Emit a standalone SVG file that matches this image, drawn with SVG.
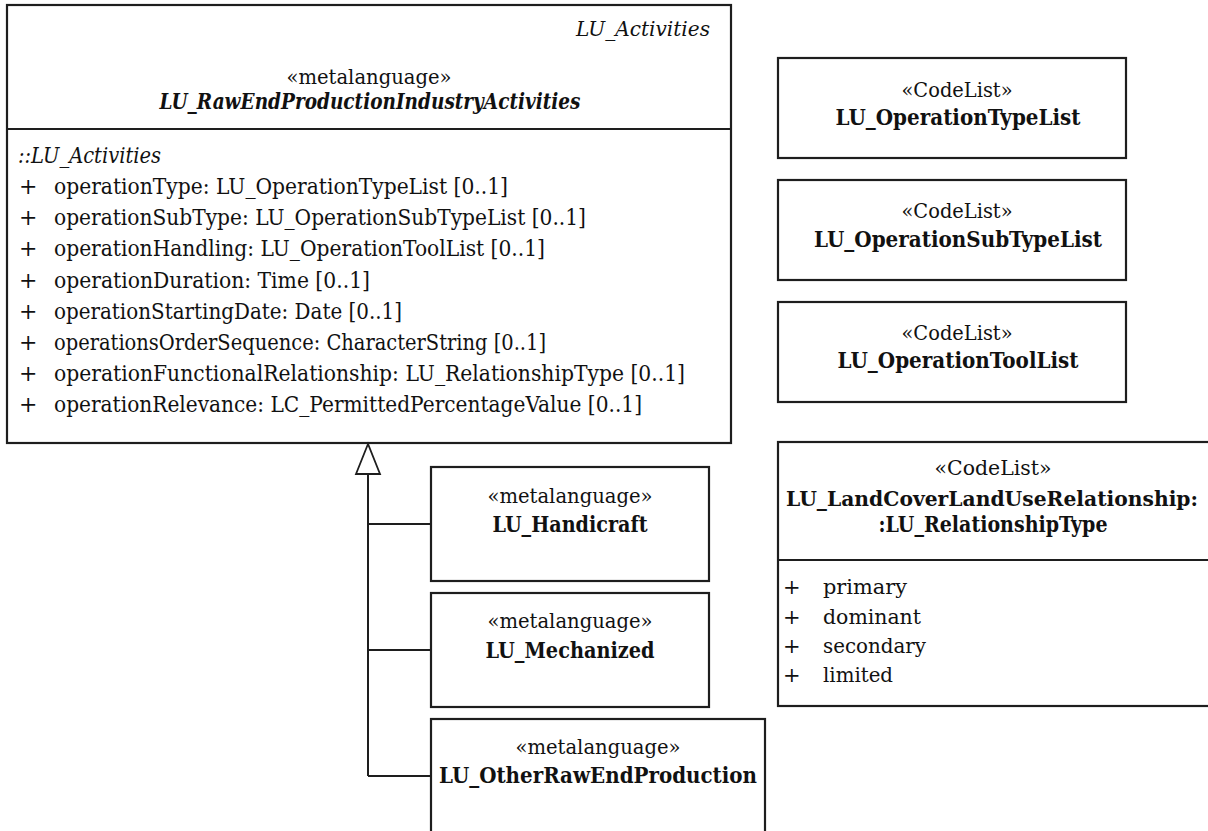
<svg xmlns="http://www.w3.org/2000/svg" width="1208" height="831" viewBox="0 0 1208 831">
  <style>
    .box { fill: #ffffff; stroke: #1e1e1e; stroke-width: 2.2; }
    .sep { stroke: #1e1e1e; stroke-width: 2.2; }
    .edge { fill: none; stroke: #1e1e1e; stroke-width: 2; }
    .head { fill: #ffffff; stroke: #1e1e1e; stroke-width: 1.8; }
    text { font-family: "DejaVu Serif", "Liberation Serif", serif; font-size: 21px; fill: #111111; }
    .a { font-size: 22px; }
    .b { font-weight: bold; font-size: 22px; }
    .bs { font-weight: bold; font-size: 20px; }
    .i { font-style: italic; }
    .bi { font-weight: bold; font-style: italic; font-size: 23px; }
    .c { text-anchor: middle; }
    .e { text-anchor: end; }
  </style>
  <rect width="1208" height="831" fill="#ffffff"/>

  <!-- abstract parent class -->
  <g id="LU_RawEndProductionIndustryActivities">
    <rect class="box" x="7" y="5" width="724" height="438"/>
    <line class="sep" x1="7" y1="129" x2="731" y2="129"/>
    <text class="i e" x="710" y="36" textLength="134" lengthAdjust="spacingAndGlyphs">LU_Activities</text>
    <text class="c" x="369" y="84" textLength="165" lengthAdjust="spacingAndGlyphs">«metalanguage»</text>
    <text class="bi c" x="370" y="109" textLength="421" lengthAdjust="spacingAndGlyphs">LU_RawEndProductionIndustryActivities</text>
    <text class="i a" x="18" y="163" textLength="143" lengthAdjust="spacingAndGlyphs">::LU_Activities</text>
    <g>
      <text class="a" x="19" y="194">+</text>
      <text class="a" x="19" y="225">+</text>
      <text class="a" x="19" y="256">+</text>
      <text class="a" x="19" y="288">+</text>
      <text class="a" x="19" y="319">+</text>
      <text class="a" x="19" y="350">+</text>
      <text class="a" x="19" y="381">+</text>
      <text class="a" x="19" y="412">+</text>
    </g>
    <text class="a" x="54" y="194" textLength="454" lengthAdjust="spacingAndGlyphs">operationType: LU_OperationTypeList [0..1]</text>
    <text class="a" x="54" y="225" textLength="532" lengthAdjust="spacingAndGlyphs">operationSubType: LU_OperationSubTypeList [0..1]</text>
    <text class="a" x="54" y="256" textLength="491" lengthAdjust="spacingAndGlyphs">operationHandling: LU_OperationToolList [0..1]</text>
    <text class="a" x="54" y="288" textLength="316" lengthAdjust="spacingAndGlyphs">operationDuration: Time [0..1]</text>
    <text class="a" x="54" y="319" textLength="348" lengthAdjust="spacingAndGlyphs">operationStartingDate: Date [0..1]</text>
    <text class="a" x="54" y="350" textLength="492" lengthAdjust="spacingAndGlyphs">operationsOrderSequence: CharacterString [0..1]</text>
    <text class="a" x="54" y="381" textLength="631" lengthAdjust="spacingAndGlyphs">operationFunctionalRelationship: LU_RelationshipType [0..1]</text>
    <text class="a" x="54" y="412" textLength="588" lengthAdjust="spacingAndGlyphs">operationRelevance: LC_PermittedPercentageValue [0..1]</text>
  </g>

  <!-- subclasses -->
  <g id="LU_Handicraft">
    <rect class="box" x="431" y="467" width="278" height="114"/>
    <text class="c" x="570" y="503" textLength="165" lengthAdjust="spacingAndGlyphs">«metalanguage»</text>
    <text class="b c" x="570" y="532" textLength="155" lengthAdjust="spacingAndGlyphs">LU_Handicraft</text>
  </g>
  <g id="LU_Mechanized">
    <rect class="box" x="431" y="593" width="278" height="114"/>
    <text class="c" x="570" y="628" textLength="165" lengthAdjust="spacingAndGlyphs">«metalanguage»</text>
    <text class="b c" x="570" y="658" textLength="169" lengthAdjust="spacingAndGlyphs">LU_Mechanized</text>
  </g>
  <g id="LU_OtherRawEndProduction">
    <rect class="box" x="431" y="719" width="334" height="130"/>
    <text class="c" x="598" y="754" textLength="165" lengthAdjust="spacingAndGlyphs">«metalanguage»</text>
    <text class="b c" x="598" y="783" textLength="318" lengthAdjust="spacingAndGlyphs">LU_OtherRawEndProduction</text>
  </g>

  <!-- code lists -->
  <g id="LU_OperationTypeList">
    <rect class="box" x="778" y="58" width="348" height="100"/>
    <text class="c" x="957" y="97" textLength="111" lengthAdjust="spacingAndGlyphs">«CodeList»</text>
    <text class="b c" x="958" y="125" textLength="245" lengthAdjust="spacingAndGlyphs">LU_OperationTypeList</text>
  </g>
  <g id="LU_OperationSubTypeList">
    <rect class="box" x="778" y="180" width="348" height="100"/>
    <text class="c" x="957" y="218" textLength="111" lengthAdjust="spacingAndGlyphs">«CodeList»</text>
    <text class="b c" x="958" y="247" textLength="288" lengthAdjust="spacingAndGlyphs">LU_OperationSubTypeList</text>
  </g>
  <g id="LU_OperationToolList">
    <rect class="box" x="778" y="302" width="348" height="100"/>
    <text class="c" x="957" y="340" textLength="111" lengthAdjust="spacingAndGlyphs">«CodeList»</text>
    <text class="b c" x="958" y="368" textLength="241" lengthAdjust="spacingAndGlyphs">LU_OperationToolList</text>
  </g>
  <g id="LU_LandCoverLandUseRelationship">
    <rect class="box" x="778" y="442" width="440" height="264"/>
    <line class="sep" x1="778" y1="560" x2="1218" y2="560"/>
    <text class="c" x="993" y="475" textLength="117" lengthAdjust="spacingAndGlyphs">«CodeList»</text>
    <text class="bs c" x="992" y="506" textLength="412" lengthAdjust="spacingAndGlyphs">LU_LandCoverLandUseRelationship:</text>
    <text class="b c" x="993" y="532" textLength="229" lengthAdjust="spacingAndGlyphs">:LU_RelationshipType</text>
    <text x="783" y="594">+</text>
    <text x="783" y="624">+</text>
    <text x="783" y="653">+</text>
    <text x="783" y="682">+</text>
    <text x="823" y="594" textLength="84" lengthAdjust="spacingAndGlyphs">primary</text>
    <text x="823" y="624" textLength="98" lengthAdjust="spacingAndGlyphs">dominant</text>
    <text x="823" y="653" textLength="103" lengthAdjust="spacingAndGlyphs">secondary</text>
    <text x="823" y="682" textLength="70" lengthAdjust="spacingAndGlyphs">limited</text>
  </g>

  <!-- generalization tree -->
  <g id="connectors">
    <path class="edge" d="M368 474 V776 M368 524 H431 M368 650 H431 M368 776 H431"/>
    <polygon class="head" points="368,444 356,474 380,474"/>
  </g>
</svg>
